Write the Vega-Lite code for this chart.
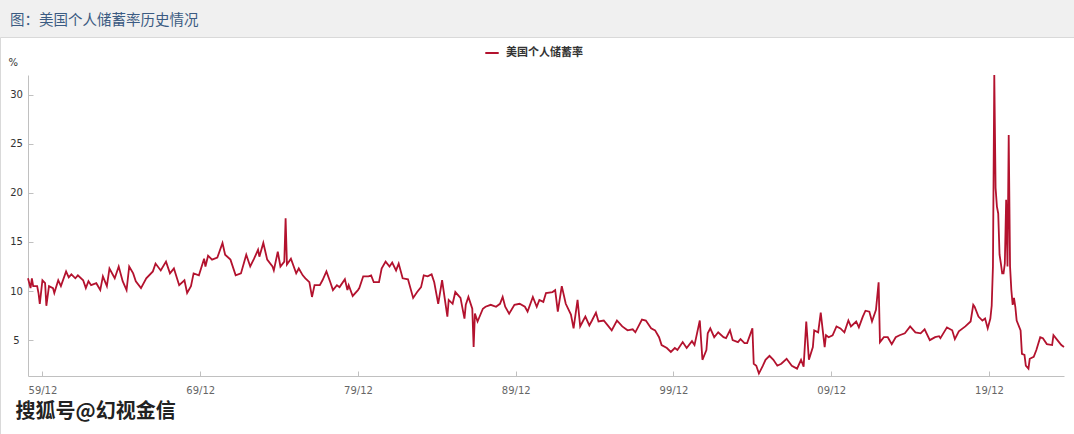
{
  "$schema": "https://vega.github.io/schema/vega-lite/v6.json",
  "width": 1074,
  "height": 397,
  "autosize": "none",
  "padding": {"top": 37, "left": 0, "right": 0, "bottom": 0},
  "background": "#f0f0f0",
  "config": {"view": {"fill": "white", "stroke": "#d9d9d9"}, "font": "DejaVu Sans"},
  "title": {"text": "图：美国个人储蓄率历史情况", "anchor": "start", "frame": "group", "dx": 10, "dy": 14, "offset": 9, "baseline": "bottom", "font": "Noto Sans CJK SC", "fontSize": 14.5, "fontWeight": "normal", "color": "#3b5b82"},
  "data": {"values": [
    {"d":"1959-01","v":11.3},{"d":"1959-03","v":10.3},{"d":"1959-04","v":11.3},{"d":"1959-05","v":10.5},{"d":"1959-08","v":10.5},{"d":"1959-09","v":9.8},{"d":"1959-10","v":8.7},{"d":"1959-12","v":11.1},
    {"d":"1960-02","v":10.8},{"d":"1960-03","v":8.5},{"d":"1960-05","v":10.5},{"d":"1960-08","v":10.3},{"d":"1960-09","v":9.8},{"d":"1960-12","v":11.1},
    {"d":"1961-02","v":10.5},{"d":"1961-06","v":12.0},{"d":"1961-08","v":11.4},{"d":"1961-10","v":11.7},
    {"d":"1962-01","v":11.3},{"d":"1962-03","v":11.6},{"d":"1962-07","v":11.1},{"d":"1962-09","v":10.3},{"d":"1962-11","v":11.0},
    {"d":"1963-01","v":10.6},{"d":"1963-05","v":10.8},{"d":"1963-08","v":10.1},{"d":"1963-10","v":11.5},
    {"d":"1964-01","v":10.5},{"d":"1964-03","v":12.3},{"d":"1964-07","v":11.3},{"d":"1964-10","v":12.5},
    {"d":"1965-01","v":11.0},{"d":"1965-04","v":10.1},{"d":"1965-06","v":12.5},{"d":"1965-09","v":11.8},{"d":"1965-11","v":11.0},
    {"d":"1966-03","v":10.3},{"d":"1966-07","v":11.3},{"d":"1966-12","v":12.0},
    {"d":"1967-02","v":12.8},{"d":"1967-06","v":12.1},{"d":"1967-10","v":13.0},
    {"d":"1968-01","v":11.8},{"d":"1968-04","v":12.3},{"d":"1968-08","v":10.6},{"d":"1968-12","v":11.1},
    {"d":"1969-02","v":9.8},{"d":"1969-05","v":10.5},{"d":"1969-07","v":11.8},{"d":"1969-11","v":11.6},
    {"d":"1970-03","v":13.3},{"d":"1970-04","v":12.5},{"d":"1970-06","v":13.6},{"d":"1970-09","v":13.2},
    {"d":"1971-01","v":13.4},{"d":"1971-05","v":14.9},{"d":"1971-07","v":13.7},{"d":"1971-11","v":13.2},
    {"d":"1972-03","v":11.6},{"d":"1972-07","v":11.8},{"d":"1972-11","v":13.7},
    {"d":"1973-02","v":12.5},{"d":"1973-05","v":13.3},{"d":"1973-08","v":14.2},{"d":"1973-09","v":13.5},{"d":"1973-12","v":14.9},
    {"d":"1974-03","v":13.2},{"d":"1974-07","v":12.5},{"d":"1974-08","v":12.1},{"d":"1974-11","v":14.0},
    {"d":"1975-01","v":12.5},{"d":"1975-04","v":13.0},{"d":"1975-05","v":17.4},{"d":"1975-06","v":12.7},{"d":"1975-09","v":13.3},
    {"d":"1976-01","v":11.8},{"d":"1976-03","v":12.3},{"d":"1976-06","v":11.6},{"d":"1976-08","v":11.3},{"d":"1976-11","v":10.9},
    {"d":"1977-01","v":9.4},{"d":"1977-03","v":10.6},{"d":"1977-07","v":10.6},{"d":"1977-09","v":11.1},{"d":"1977-12","v":12.0},
    {"d":"1978-03","v":10.9},{"d":"1978-05","v":10.1},{"d":"1978-08","v":10.6},{"d":"1978-10","v":10.4},
    {"d":"1979-02","v":11.2},{"d":"1979-04","v":10.1},{"d":"1979-05","v":10.6},{"d":"1979-08","v":9.5},{"d":"1979-12","v":10.1},
    {"d":"1980-01","v":10.3},{"d":"1980-04","v":11.5},{"d":"1980-08","v":11.5},{"d":"1980-10","v":11.6},{"d":"1980-12","v":10.9},
    {"d":"1981-04","v":10.9},{"d":"1981-06","v":12.3},{"d":"1981-09","v":13.0},{"d":"1981-12","v":12.5},
    {"d":"1982-02","v":12.9},{"d":"1982-05","v":12.1},{"d":"1982-07","v":12.8},{"d":"1982-10","v":11.3},
    {"d":"1983-02","v":11.2},{"d":"1983-06","v":9.3},{"d":"1983-09","v":9.9},{"d":"1983-12","v":10.4},
    {"d":"1984-02","v":11.6},{"d":"1984-05","v":11.5},{"d":"1984-08","v":11.7},{"d":"1984-10","v":10.9},
    {"d":"1985-01","v":8.7},{"d":"1985-04","v":11.1},{"d":"1985-08","v":7.4},{"d":"1985-09","v":9.1},{"d":"1985-12","v":8.7},
    {"d":"1986-02","v":9.9},{"d":"1986-06","v":9.3},{"d":"1986-09","v":7.2},{"d":"1986-10","v":8.6},{"d":"1986-12","v":9.4},
    {"d":"1987-03","v":8.2},{"d":"1987-04","v":4.3},{"d":"1987-05","v":7.7},{"d":"1987-07","v":6.9},{"d":"1987-11","v":8.2},
    {"d":"1988-01","v":8.4},{"d":"1988-05","v":8.6},{"d":"1988-09","v":8.4},{"d":"1988-12","v":8.7},
    {"d":"1989-02","v":9.4},{"d":"1989-04","v":8.4},{"d":"1989-07","v":7.7},{"d":"1989-11","v":8.6},
    {"d":"1990-03","v":8.7},{"d":"1990-07","v":8.4},{"d":"1990-09","v":7.9},
    {"d":"1991-01","v":9.4},{"d":"1991-04","v":8.4},{"d":"1991-06","v":9.1},{"d":"1991-09","v":8.9},{"d":"1991-11","v":9.8},
    {"d":"1992-04","v":9.9},{"d":"1992-06","v":10.1},{"d":"1992-08","v":7.9},{"d":"1992-11","v":10.5},
    {"d":"1993-02","v":8.7},{"d":"1993-06","v":7.6},{"d":"1993-08","v":6.2},{"d":"1993-11","v":9.1},
    {"d":"1994-01","v":6.4},{"d":"1994-03","v":6.9},{"d":"1994-05","v":7.4},{"d":"1994-08","v":6.5},{"d":"1994-10","v":7.0},
    {"d":"1995-01","v":7.8},{"d":"1995-03","v":6.9},{"d":"1995-07","v":7.0},{"d":"1995-10","v":6.5},
    {"d":"1996-01","v":6.0},{"d":"1996-05","v":7.0},{"d":"1996-09","v":6.4},
    {"d":"1997-01","v":6.0},{"d":"1997-05","v":6.1},{"d":"1997-07","v":5.8},{"d":"1997-12","v":7.1},
    {"d":"1998-03","v":7.0},{"d":"1998-07","v":6.2},{"d":"1998-10","v":6.0},
    {"d":"1999-01","v":5.3},{"d":"1999-03","v":4.5},{"d":"1999-07","v":4.2},{"d":"1999-10","v":3.8},
    {"d":"2000-01","v":4.2},{"d":"2000-03","v":4.0},{"d":"2000-07","v":4.8},{"d":"2000-10","v":4.2},
    {"d":"2001-02","v":4.9},{"d":"2001-04","v":4.5},{"d":"2001-08","v":7.0},{"d":"2001-10","v":3.0},
    {"d":"2002-01","v":4.0},{"d":"2002-02","v":5.7},{"d":"2002-04","v":6.2},{"d":"2002-07","v":5.3},{"d":"2002-10","v":5.8},
    {"d":"2003-02","v":5.3},{"d":"2003-04","v":5.2},{"d":"2003-07","v":6.0},{"d":"2003-09","v":5.0},
    {"d":"2004-01","v":4.8},{"d":"2004-03","v":5.1},{"d":"2004-06","v":4.7},{"d":"2004-08","v":4.7},{"d":"2004-12","v":6.2},
    {"d":"2005-01","v":2.6},{"d":"2005-03","v":2.4},{"d":"2005-05","v":1.6},{"d":"2005-08","v":2.4},{"d":"2005-10","v":3.0},
    {"d":"2006-01","v":3.4},{"d":"2006-04","v":3.0},{"d":"2006-07","v":2.4},{"d":"2006-10","v":2.6},
    {"d":"2007-02","v":3.1},{"d":"2007-06","v":2.4},{"d":"2007-10","v":2.1},
    {"d":"2008-01","v":3.0},{"d":"2008-03","v":2.3},{"d":"2008-05","v":6.9},{"d":"2008-07","v":3.0},{"d":"2008-10","v":4.3},{"d":"2008-11","v":6.0},
    {"d":"2009-02","v":5.8},{"d":"2009-04","v":7.8},{"d":"2009-07","v":4.3},{"d":"2009-08","v":5.5},{"d":"2009-10","v":5.3},
    {"d":"2010-01","v":5.5},{"d":"2010-04","v":6.4},{"d":"2010-07","v":6.2},{"d":"2010-10","v":5.8},
    {"d":"2011-01","v":7.0},{"d":"2011-03","v":6.4},{"d":"2011-07","v":6.9},{"d":"2011-09","v":6.3},{"d":"2011-12","v":7.4},
    {"d":"2012-02","v":8.0},{"d":"2012-05","v":7.9},{"d":"2012-07","v":6.9},{"d":"2012-10","v":8.1},{"d":"2012-12","v":10.9},
    {"d":"2013-01","v":4.8},{"d":"2013-04","v":5.3},{"d":"2013-07","v":5.3},{"d":"2013-10","v":4.6},
    {"d":"2014-01","v":5.3},{"d":"2014-04","v":5.5},{"d":"2014-08","v":5.7},{"d":"2014-12","v":6.4},
    {"d":"2015-04","v":5.8},{"d":"2015-08","v":5.7},{"d":"2015-11","v":6.1},
    {"d":"2016-03","v":5.0},{"d":"2016-07","v":5.3},{"d":"2016-10","v":5.4},{"d":"2016-11","v":5.2},
    {"d":"2017-04","v":6.3},{"d":"2017-08","v":6.0},{"d":"2017-10","v":5.1},
    {"d":"2018-01","v":5.9},{"d":"2018-06","v":6.4},{"d":"2018-10","v":6.9},{"d":"2018-12","v":8.6},
    {"d":"2019-01","v":8.4},{"d":"2019-04","v":7.4},{"d":"2019-07","v":7.0},{"d":"2019-09","v":7.2},{"d":"2019-11","v":6.2},
    {"d":"2020-01","v":7.2},{"d":"2020-02","v":8.5},{"d":"2020-03","v":12.5},{"d":"2020-04","v":32.0},{"d":"2020-05","v":20.5},{"d":"2020-06","v":18.6},{"d":"2020-07","v":17.9},{"d":"2020-08","v":13.7},{"d":"2020-09","v":12.8},{"d":"2020-10","v":11.8},{"d":"2020-11","v":11.8},{"d":"2020-12","v":12.8},
    {"d":"2021-01","v":19.3},{"d":"2021-02","v":12.5},{"d":"2021-03","v":25.9},{"d":"2021-04","v":12.5},{"d":"2021-05","v":10.1},{"d":"2021-06","v":8.6},{"d":"2021-07","v":9.3},{"d":"2021-08","v":8.4},{"d":"2021-09","v":7.0},{"d":"2021-12","v":6.0},
    {"d":"2022-01","v":3.6},{"d":"2022-03","v":3.5},{"d":"2022-04","v":2.4},{"d":"2022-06","v":2.1},{"d":"2022-07","v":3.1},{"d":"2022-10","v":3.3},{"d":"2022-12","v":4.0},
    {"d":"2023-03","v":5.3},{"d":"2023-05","v":5.2},{"d":"2023-08","v":4.6},{"d":"2023-12","v":4.5},
    {"d":"2024-01","v":5.5},{"d":"2024-04","v":5.0},{"d":"2024-07","v":4.5},{"d":"2024-09","v":4.3}
  ]},
  "mark": {"type": "line", "strokeWidth": 1.8},
  "encoding": {
    "x": {
      "field": "d", "type": "temporal",
      "scale": {"domain": ["1959-01-01", "2024-09-01"], "range": [28, 1064], "nice": false},
      "axis": {
        "orient": "bottom", "offset": -58,
        "values": [
          {"year": 1959, "month": 12, "date": 1}, {"year": 1969, "month": 12, "date": 1},
          {"year": 1979, "month": 12, "date": 1}, {"year": 1989, "month": 12, "date": 1},
          {"year": 1999, "month": 12, "date": 1}, {"year": 2009, "month": 12, "date": 1},
          {"year": 2019, "month": 12, "date": 1}
        ],
        "format": "%y/%m", "grid": false,
        "domainColor": "#c0c0c0", "tickColor": "#c0c0c0", "tickSize": -5,
        "labelColor": "#666666", "labelFontSize": 10, "labelPadding": 14, "labelFlush": false, "labelOverlap": false,
        "title": "搜狐号@幻视金信", "titleX": 15, "titleY": 35, "titleAnchor": "start", "titleAlign": "left", "titleBaseline": "middle",
        "titleFont": "Noto Sans CJK SC", "titleFontSize": 20, "titleFontWeight": "bold", "titleColor": "#222222"
      }
    },
    "y": {
      "field": "v", "type": "quantitative",
      "scale": {"domain": [1.35, 32], "range": [339, 38], "nice": false, "zero": false},
      "axis": {
        "orient": "left", "offset": -28, "values": [5, 10, 15, 20, 25, 30], "grid": false,
        "domainColor": "#c0c0c0", "tickColor": "#c0c0c0", "tickSize": -5,
        "labelColor": "#333333", "labelFontSize": 10, "labelAlign": "center", "labelPadding": 17,
        "title": "%", "titleAngle": 0, "titleX": -20, "titleY": 25, "titleAlign": "left", "titleBaseline": "middle",
        "titleFontSize": 10, "titleFontWeight": "normal", "titleColor": "#333333"
      }
    },
    "color": {
      "datum": "美国个人储蓄率",
      "scale": {"range": ["#b3122e"]},
      "legend": {
        "orient": "none", "legendX": 484, "legendY": 8, "direction": "horizontal", "title": null, "padding": 0,
        "symbolType": "stroke", "symbolStrokeWidth": 2, "symbolSize": 180,
        "labelFont": "Noto Sans CJK SC", "labelFontSize": 11, "labelFontWeight": "bold", "labelColor": "#333333", "labelOffset": 6
      }
    }
  }
}
